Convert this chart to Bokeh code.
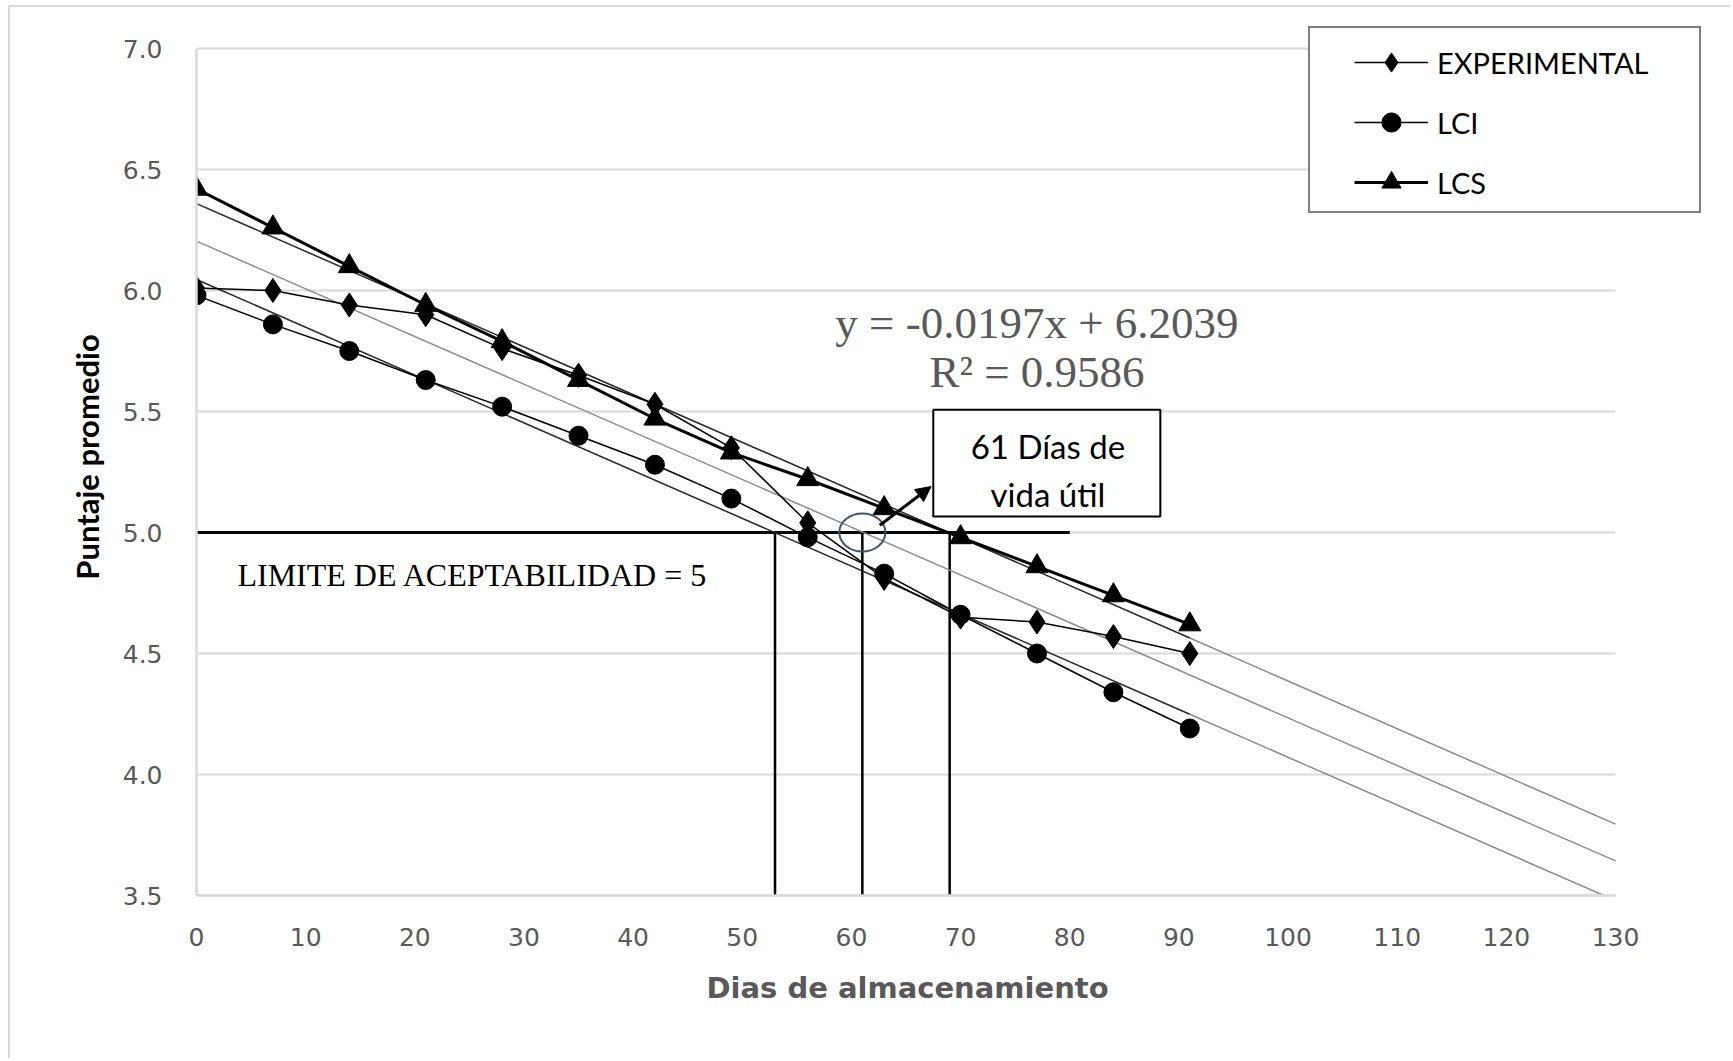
import numpy as np
from bokeh.plotting import figure
from bokeh.models import (Range1d, FixedTicker, NumeralTickFormatter, Legend, LegendItem,
                          Label, BoxAnnotation, Arrow, NormalHead, Title)
from bokeh.embed import file_html
from bokeh.resources import INLINE

# ---------------- data ----------------
DAYS = [0, 7, 14, 21, 28, 35, 42, 49, 56, 63, 70, 77, 84, 91]
EXPERIMENTAL = [6.01, 6.00, 5.94, 5.90, 5.76, 5.65, 5.53, 5.35, 5.04, 4.81, 4.65, 4.63, 4.57, 4.50]
LCI = [5.98, 5.86, 5.75, 5.63, 5.52, 5.40, 5.28, 5.14, 4.98, 4.83, 4.66, 4.50, 4.34, 4.19]
LCS = [6.42, 6.26, 6.10, 5.94, 5.79, 5.63, 5.47, 5.33, 5.22, 5.10, 4.98, 4.86, 4.74, 4.62]

EXP_SLOPE = -0.0197
EXP_INTERCEPT = 6.2039
EQUATION_TEXT = "y = -0.0197x + 6.2039"
R2_TEXT = "R\u00b2 = 0.9586"

LIMIT = 5.0
LIMIT_LINE_END = 80
SHELF_DAYS = [53, 61, 69]
SHELF_LIFE = 61

X_TICKS = [0, 10, 20, 30, 40, 50, 60, 70, 80, 90, 100, 110, 120, 130]
Y_TICKS = [3.5, 4.0, 4.5, 5.0, 5.5, 6.0, 6.5, 7.0]
X_MIN, X_MAX = 0, 130
Y_MIN, Y_MAX = 3.5, 7.0

# ---------------- layout (pixels) ----------------
W, H = 1730, 1058
LEFT, BOTTOM = 196, 163
PLOT_W, PLOT_H = 1419, 847          # pixel size of the 0..130 x 3.5..7.0 area
EXTRA_RIGHT, EXTRA_TOP = 111, 30    # room for the legend box beyond the axes
px_x = PLOT_W / (X_MAX - X_MIN)
px_y = PLOT_H / (Y_MAX - Y_MIN)
x_view_max = X_MAX + EXTRA_RIGHT / px_x
y_view_max = Y_MAX + EXTRA_TOP / px_y

GRID = "#d9d9d9"
TICK_COLOR = "#595959"

p = figure(width=W, height=H,
           x_range=Range1d(X_MIN, x_view_max), y_range=Range1d(Y_MIN, y_view_max),
           output_backend="svg", toolbar_location=None,
           min_border_left=LEFT, min_border_right=W - LEFT - PLOT_W - EXTRA_RIGHT,
           min_border_top=H - BOTTOM - PLOT_H - EXTRA_TOP, min_border_bottom=BOTTOM)
p.outline_line_color = None
p.background_fill_color = "white"
p.border_fill_alpha = 0
# thin light-grey chart border along the left and top edges (as in the reference)
p.styles = {
    "background": ("linear-gradient(#d9d9d9, #d9d9d9) 8px 5px / 2px 1060px no-repeat, "
                   "linear-gradient(#d9d9d9, #d9d9d9) 8px 5px / 1730px 2px no-repeat, white"),
}

p.xgrid.grid_line_color = None
p.ygrid.grid_line_color = None
# horizontal gridlines limited to the 0..130 span
p.segment(x0=[X_MIN] * len(Y_TICKS), y0=Y_TICKS, x1=[X_MAX] * len(Y_TICKS), y1=Y_TICKS,
          line_color=GRID, line_width=2)

for ax in (p.xaxis[0], p.yaxis[0]):
    ax.axis_line_color = GRID
    ax.axis_line_width = 2.5
    ax.major_tick_line_color = None
    ax.minor_tick_line_color = None
    ax.major_label_text_font = "DejaVu Sans"
    ax.major_label_text_font_size = "25px"
    ax.major_label_text_color = TICK_COLOR

p.xaxis.bounds = (X_MIN, X_MAX)
p.yaxis.bounds = (Y_MIN, Y_MAX)
p.xaxis.ticker = FixedTicker(ticks=X_TICKS)
p.yaxis.ticker = FixedTicker(ticks=Y_TICKS)
p.yaxis.formatter = NumeralTickFormatter(format="0.0")
p.xaxis.major_label_standoff = 26
p.yaxis.major_label_standoff = 28

# x title as a left-aligned title so it is centred under the 0..130 axis
p.add_layout(Title(text="Dias de almacenamiento", align="left", offset=510,
                   text_font="DejaVu Sans", text_font_style="bold", text_font_size="29px",
                   text_color=TICK_COLOR, standoff=40), "below")

p.yaxis.axis_label = "Puntaje promedio"
p.yaxis.axis_label_text_font = "Lato"
p.yaxis.axis_label_text_font_style = "bold"
p.yaxis.axis_label_text_font_size = "31px"
p.yaxis.axis_label_text_color = "black"
p.yaxis.axis_label_standoff = 14

# ---------------- limit lines ----------------
p.segment(x0=[X_MIN], y0=[LIMIT], x1=[LIMIT_LINE_END], y1=[LIMIT],
          line_color="black", line_width=3)
p.segment(x0=SHELF_DAYS, y0=[Y_MIN] * len(SHELF_DAYS), x1=SHELF_DAYS,
          y1=[LIMIT] * len(SHELF_DAYS), line_color="black", line_width=2.5)

# ---------------- trend lines ----------------
days_arr = np.array(DAYS, dtype=float)
lcs_m, lcs_b = np.polyfit(days_arr, np.array(LCS), 1)
lci_m, lci_b = np.polyfit(days_arr, np.array(LCI), 1)

x_full = np.array([X_MIN, X_MAX], dtype=float)
x_in = np.array([X_MIN, DAYS[-1]], dtype=float)
x_out = np.array([DAYS[-1], X_MAX], dtype=float)

TREND_GRAY = "#8c8c8c"
p.line(x_full, EXP_SLOPE * x_full + EXP_INTERCEPT, line_color=TREND_GRAY, line_width=1.5)
for m, b in ((lcs_m, lcs_b), (lci_m, lci_b)):
    p.line(x_out, m * x_out + b, line_color=TREND_GRAY, line_width=1.5)
    p.line(x_in, m * x_in + b, line_color="#262626", line_width=1.5)

# ---------------- series ----------------
exp_line = p.line(DAYS, EXPERIMENTAL, line_color="black", line_width=1.5)
exp_pts = p.scatter(DAYS, EXPERIMENTAL, marker="diamond", size=24,
                    fill_color="black", line_color="black")
lci_line = p.line(DAYS, LCI, line_color="black", line_width=1.5)
lci_pts = p.scatter(DAYS, LCI, marker="circle", size=19,
                    fill_color="black", line_color="black")
lcs_line = p.line(DAYS, LCS, line_color="black", line_width=3)
lcs_pts = p.scatter(DAYS, LCS, marker="triangle", size=22,
                    fill_color="black", line_color="black")

# ---------------- shelf-life marker ----------------
p.ellipse(x=[SHELF_LIFE], y=[LIMIT], width=46, height=38,
          width_units="screen", height_units="screen",
          fill_alpha=0, line_color="#44546A", line_width=2)

p.add_layout(Arrow(end=NormalHead(size=15, fill_color="black", line_color="black"),
                   x_start=62.6, y_start=5.03, x_end=67.3, y_end=5.19,
                   line_color="black", line_width=3))

p.add_layout(BoxAnnotation(left=67.5, right=88.3, top=5.507, bottom=5.066,
                           fill_color="white", fill_alpha=1.0,
                           line_color="black", line_width=2, line_alpha=1.0))
for txt, yy in (("61 D\u00edas de", 5.357), ("vida \u00fatil", 5.161)):
    p.add_layout(Label(x=78, y=yy, text=txt, text_align="center", text_baseline="middle",
                       text_font="Lato", text_font_size="33px", text_color="black"))

# ---------------- equation and limit text ----------------
p.add_layout(Label(x=77, y=5.864, text=EQUATION_TEXT, text_align="center",
                   text_baseline="middle", text_font="Liberation Serif",
                   text_font_size="45px", text_color="#595959"))
p.add_layout(Label(x=77, y=5.663, text=R2_TEXT, text_align="center",
                   text_baseline="middle", text_font="Liberation Serif",
                   text_font_size="45px", text_color="#595959"))
p.add_layout(Label(x=3.75, y=4.823, text="LIMITE DE ACEPTABILIDAD = 5", text_align="left",
                   text_baseline="middle", text_font="Liberation Serif",
                   text_font_size="32px", text_color="black"))

# ---------------- legend ----------------
dummy = p.line(x=[], y=[], line_alpha=0)
frame_box = Legend(items=[LegendItem(label=" ", renderers=[dummy])],
                   location=(1112, 682), padding=0, margin=0, spacing=0,
                   glyph_width=1, glyph_height=183, label_width=388, label_height=183,
                   label_standoff=0, border_line_color="black", border_line_width=2.5,
                   background_fill_color="white", background_fill_alpha=1.0)
p.add_layout(frame_box, "center")

legend = Legend(items=[LegendItem(label="EXPERIMENTAL", renderers=[exp_line, exp_pts]),
                       LegendItem(label="LCI", renderers=[lci_line, lci_pts]),
                       LegendItem(label="LCS", renderers=[lcs_line, lcs_pts])],
                location=(1158, 689), padding=0, margin=0, spacing=12,
                glyph_width=74, glyph_height=48, label_height=48, label_standoff=9,
                label_text_font="Lato", label_text_font_size="29px", label_text_color="black",
                border_line_color=None, background_fill_alpha=0)
p.add_layout(legend, "center")

open("out.html", "w").write(file_html(p, INLINE))
